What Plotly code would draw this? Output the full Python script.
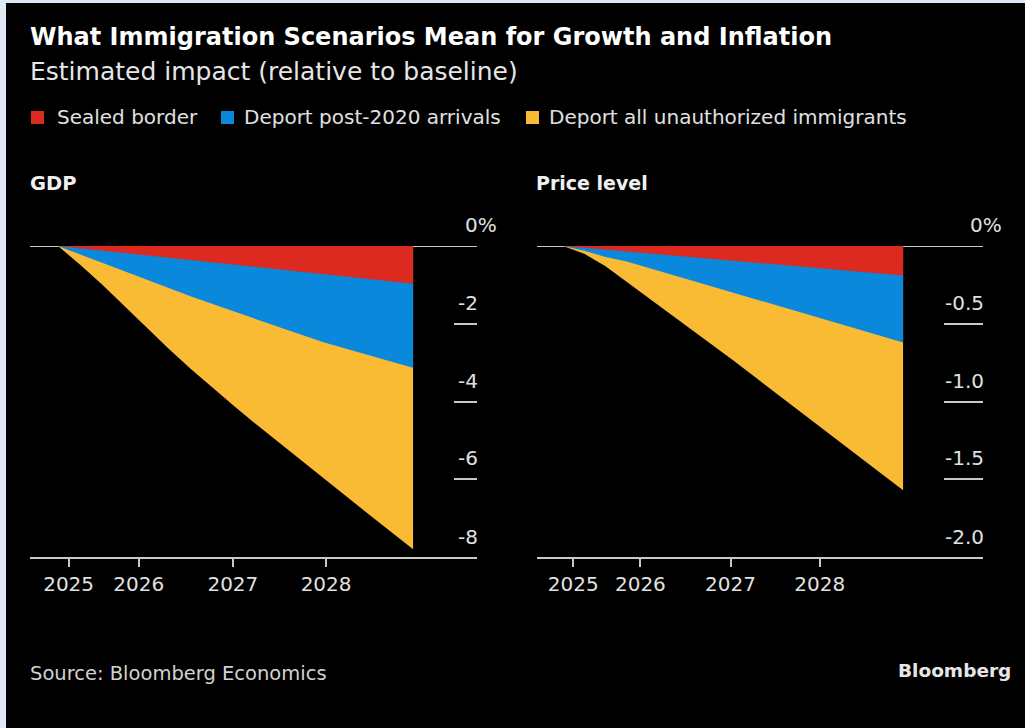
import plotly.graph_objects as go
from plotly.subplots import make_subplots

W, H = 1025, 728

# ---------------- data ----------------
quarters = [2025.0, 2025.25, 2025.5, 2025.75, 2026.0, 2026.25, 2026.5, 2026.75,
            2027.0, 2027.25, 2027.5, 2027.75, 2028.0, 2028.25, 2028.5, 2028.75, 2029.0]

series_names = ["Sealed border", "Deport post-2020 arrivals", "Deport all unauthorized immigrants"]
series_colors = ["#dc2a20", "#0a88dc", "#f9bb33"]

gdp_sealed = [0, -0.06, -0.12, -0.18, -0.24, -0.30, -0.36, -0.42, -0.48,
              -0.54, -0.60, -0.66, -0.72, -0.78, -0.85, -0.91, -0.97]
gdp_post2020 = [0, -0.22, -0.44, -0.66, -0.88, -1.09, -1.30, -1.50, -1.70,
                -1.90, -2.10, -2.29, -2.48, -2.65, -2.81, -2.97, -3.13]
gdp_all = [0, -0.48, -1.00, -1.55, -2.11, -2.65, -3.17, -3.67, -4.15,
           -4.62, -5.08, -5.54, -6.00, -6.45, -6.90, -7.35, -7.80]

price_sealed = [0, -0.012, -0.024, -0.036, -0.047, -0.059, -0.071, -0.083, -0.095,
                -0.107, -0.119, -0.131, -0.143, -0.155, -0.166, -0.178, -0.19]
price_post2020 = [0, -0.03, -0.07, -0.10, -0.14, -0.18, -0.22, -0.26, -0.30,
                  -0.34, -0.38, -0.42, -0.46, -0.50, -0.54, -0.58, -0.62]
price_all = [0, -0.05, -0.13, -0.23, -0.33, -0.43, -0.53, -0.63, -0.735,
             -0.84, -0.945, -1.05, -1.155, -1.26, -1.365, -1.47, -1.57]

year_ticks = [2025.12, 2025.91, 2026.97, 2028.02]
year_labels = ["2025", "2026", "2027", "2028"]

gdp_ticks = [-2, -4, -6]
gdp_tick_labels = ["-2", "-4", "-6"]
price_ticks = [-0.5, -1.0, -1.5]
price_tick_labels = ["-0.5", "-1.0", "-1.5"]

# ---------------- styling ----------------
FONT = "DejaVu Sans"
TXT = "#e0e0e0"
LINE = "#c8c8c8"


def px(x, y):
    return x / W, 1 - y / H


fig = make_subplots(rows=1, cols=2)

panels = [
    (1, [gdp_all, gdp_post2020, gdp_sealed]),
    (2, [price_all, price_post2020, price_sealed]),
]
for col, vals in panels:
    for i in [2, 1, 0]:
        v = vals[2 - i]
        fig.add_trace(go.Scatter(
            x=quarters, y=v, mode="lines", line=dict(width=0, color=series_colors[i]),
            fill="tozeroy", fillcolor=series_colors[i], name=series_names[i],
            showlegend=False, hoverinfo="skip"), row=1, col=col)

# domains (pixel-based)
lx0, lx1 = 30, 477
rx0, rx1 = 537, 983
ytop, ybot = 246, 557

xaxis_common = dict(
    showgrid=False, zeroline=False, showline=True, linecolor=LINE, linewidth=2,
    ticks="outside", ticklen=8, tickwidth=2, tickcolor=LINE,
    tickvals=year_ticks, ticktext=year_labels,
    tickfont=dict(family=FONT, size=20, color=TXT),
)
fig.update_layout(
    xaxis=dict(domain=[lx0 / W, lx1 / W], range=[2024.685, 2029.72], **xaxis_common),
    xaxis2=dict(domain=[rx0 / W, rx1 / W], range=[2024.694, 2029.94], **xaxis_common),
    yaxis=dict(domain=[1 - ybot / H, 1 - ytop / H], range=[-8, 0], side="right",
               showgrid=False, zeroline=False, showline=False,
               ticks="inside", ticklen=23, tickwidth=2, tickcolor=LINE,
               tickvals=gdp_ticks, showticklabels=False),
    yaxis2=dict(domain=[1 - ybot / H, 1 - ytop / H], range=[-2, 0], side="right",
                showgrid=False, zeroline=False, showline=False,
                ticks="inside", ticklen=39, tickwidth=2, tickcolor=LINE,
                tickvals=price_ticks, showticklabels=False),
)

shapes = []
# black card on light-blue page
shapes.append(dict(type="rect", xref="paper", yref="paper", x0=6 / W, x1=1, y0=0, y1=1 - 3 / H,
                   fillcolor="#000000", line=dict(width=0), layer="below"))
# zero lines
for xr, yr in [("x", "y"), ("x2", "y2")]:
    shapes.append(dict(type="line", xref=f"{xr} domain", yref=yr, x0=0, x1=1, y0=0, y1=0,
                       line=dict(color=LINE, width=2), layer="below"))

annotations = []


def txt(x, y, text, size, color=TXT, xanchor="left", yanchor="middle", bold=False):
    xx, yy = px(x, y)
    annotations.append(dict(
        xref="paper", yref="paper", x=xx, y=yy, text=f"<b>{text}</b>" if bold else text,
        showarrow=False, xanchor=xanchor, yanchor=yanchor,
        font=dict(family=FONT, size=size, color=color)))


txt(28, 37, "What Immigration Scenarios Mean for Growth and Inflation", 24, "#ffffff", bold=True)
txt(28, 72, "Estimated impact (relative to baseline)", 25, "#e6e6e6")

# legend
legend_pos = [(31, 55), (221, 242), (526, 547)]
for i, (sx, tx) in enumerate(legend_pos):
    x0, y0 = px(sx, 111)
    x1, y1 = px(sx + 13, 124)
    shapes.append(dict(type="rect", xref="paper", yref="paper", x0=x0, x1=x1, y0=y1, y1=y0,
                       fillcolor=series_colors[i], line=dict(width=0)))
    txt(tx, 117, series_names[i], 20)

txt(28, 183, "GDP", 19.5, "#f0f0f0", bold=True)
txt(534, 183, "Price level", 19, "#f0f0f0", bold=True)

# y tick labels (above their tick marks)
for xr, yr, ticks, labels, zshift in [("x", "y", gdp_ticks, gdp_tick_labels, 22),
                                      ("x2", "y2", price_ticks, price_tick_labels, 21)]:
    for v, lab in zip(ticks, labels):
        annotations.append(dict(xref=f"{xr} domain", yref=yr, x=1, y=v, text=lab, showarrow=False,
                                xanchor="right", yanchor="middle", yshift=21, xshift=3,
                                font=dict(family=FONT, size=20, color=TXT)))
    annotations.append(dict(xref=f"{xr} domain", yref=yr, x=1, y=0, text="0%", showarrow=False,
                            xanchor="right", yanchor="middle", yshift=21, xshift=zshift,
                            font=dict(family=FONT, size=20, color=TXT)))

annotations.append(dict(xref="x domain", yref="y", x=1, y=-8, text="-8", showarrow=False,
                        xanchor="right", yanchor="middle", yshift=20, xshift=3,
                        font=dict(family=FONT, size=20, color=TXT)))
annotations.append(dict(xref="x2 domain", yref="y2", x=1, y=-2, text="-2.0", showarrow=False,
                        xanchor="right", yanchor="middle", yshift=20, xshift=3,
                        font=dict(family=FONT, size=20, color=TXT)))

txt(28, 673, "Source: Bloomberg Economics", 19.5, "#d2d2d2")
txt(1013, 670, "Bloomberg", 18.5, "#e6e6e6", xanchor="right", bold=True)

fig.update_layout(
    width=W, height=H, margin=dict(l=0, r=0, t=0, b=0),
    paper_bgcolor="#dde9f5", plot_bgcolor="#000000",
    shapes=shapes, annotations=annotations, showlegend=False,
)

fig.write_html("out.html")
